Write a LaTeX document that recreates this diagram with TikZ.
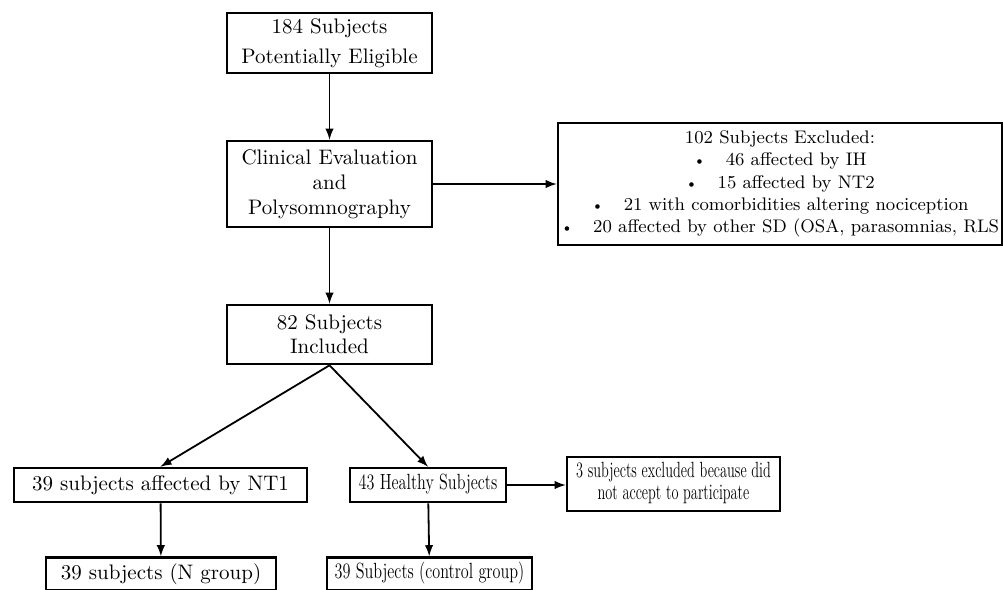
\documentclass[tikz,border=0pt]{standalone}
\usepackage{graphicx}
\usetikzlibrary{calc}
\begin{document}
\begin{tikzpicture}[x=0.5pt,y=-0.5pt,
	box/.style={draw,line width=1.3pt,inner sep=0pt,align=center},
	flow/.style={->,line width=0.9pt}]
			\begin{scope}[>=latex] %filled arrow tips
			\useasboundingbox (0,0) rectangle (1003,590);
			\newcommand{\condensed}[2]{\scalebox{#1}[1]{\begin{tabular}{@{}c@{}}#2\end{tabular}}}
			\newcommand{\bul}{\scalebox{0.85}{\textbullet}\hspace{10pt}}
			
			\pgfmathsetmacro\xMain{329.5}
			\pgfmathsetmacro\mainBoxWidth{102.5} // in pt
			
			\node (eligible) at (\xMain, 43) [box,minimum width=\mainBoxWidth pt, minimum height=30pt,font=\fontsize{10.5}{15}\selectfont] {184 Subjects\\Potentially Eligible};
			\node (clinical) at (\xMain, 184) [box,minimum width=\mainBoxWidth pt, minimum height=43pt,font=\fontsize{10.5}{12.5}\selectfont] {Clinical Evaluation\\and\\Polysomnography};
			\node (included) at (\xMain, 334.5) [box,minimum width=\mainBoxWidth pt, minimum height=29.5pt,font=\fontsize{10.5}{12}\selectfont] {82 Subjects\\Included};
			
			%excluded after evaluation
			\node (excluded) at (780, 184) [box,minimum width=222pt, minimum height=61pt,font=\fontsize{9.1}{11.2}\selectfont] {102 Subjects Excluded:\\
				\bul 46 affected by IH\\
				\bul 15 affected by NT2\\
				\bul 21 with comorbidities altering nociception\\
				\bul 20 affected by other SD (OSA, parasomnias, RLS};
			
			\draw[flow] (eligible) -- (clinical);
			\draw[flow] (clinical) -- (excluded);
			\draw[flow] (clinical) -- (included);
			
			%groups
			\node (nt1) at (160.5, 485) [box,minimum width=146.5pt, minimum height=17pt,font=\fontsize{10.5}{12}\selectfont] {39 subjects affected by NT1};
			\node (healthy) at (428, 485) [box,minimum width=78pt, minimum height=17pt,font=\fontsize{11}{12}\selectfont] {\condensed{0.735}{43 Healthy Subjects}};
			\node (refused) at (673.5, 484) [box,minimum width=106.5pt, minimum height=27pt,font=\fontsize{11}{11}\selectfont] {\condensed{0.65}{3 subjects excluded because did\\not accept to participate}};
			
			\draw[flow] (included.south) -- (nt1.north);
			\draw[flow] (included.south) -- (healthy.north);
			\draw[flow] (healthy.east) -- (healthy.east -| refused.west);
			
			\node (ngroup) at (161, 574) [box,minimum width=115pt, minimum height=16.5pt,font=\fontsize{10.5}{12}\selectfont] {39 subjects (N group)};
			\node (cgroup) at (429.5, 574) [box,minimum width=102.5pt, minimum height=16.5pt,font=\fontsize{11}{12}\selectfont] {\condensed{0.735}{39 Subjects (control group)}};
			
			\draw[flow] (nt1) -- (ngroup);
			\draw[flow] (healthy) -- (cgroup);
			
			\end{scope}
\end{tikzpicture}
\end{document}
